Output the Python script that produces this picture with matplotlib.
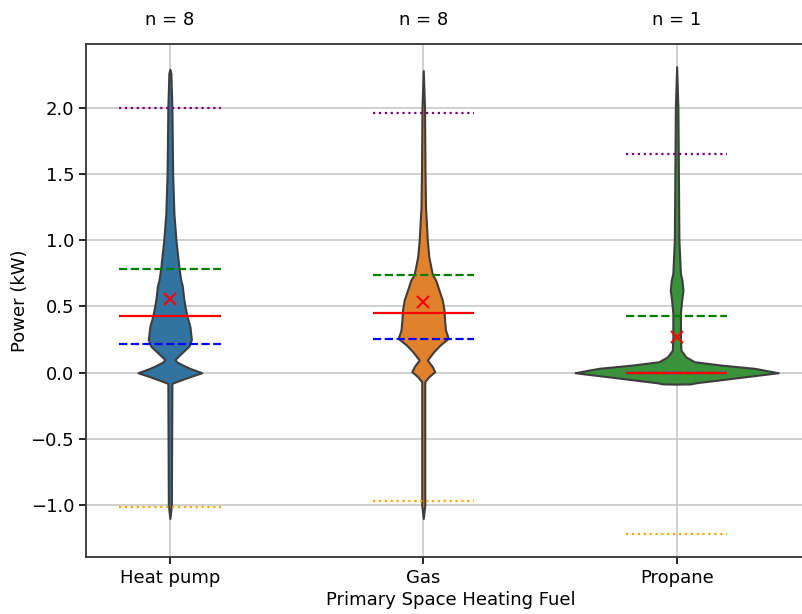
import numpy as np
import matplotlib
matplotlib.use("Agg")
import matplotlib.pyplot as plt

# categorias y conteos
categorias = ["Heat pump", "Gas", "Propane"]
conteos = [8, 8, 1]
colores = ["#3274a1", "#e1812c", "#3a923a"]

# estadisticos (kW)
p_alto = [2.0, 1.96, 1.65]       # percentil alto (punteado morado)
q3 = [0.78, 0.74, 0.43]          # cuartil superior
mediana = [0.43, 0.45, 0.0]
q1 = [0.214, 0.254, 0.0]         # cuartil inferior
p_bajo = [-1.01, -0.97, -1.22]   # percentil bajo (punteado naranja)
media = [0.556, 0.536, 0.272]

# contorno de cada violin: nivel de potencia y semiancho (en unidades de categoria)
y_heat = [2.29, 2.26, 2.0, 1.5, 1.2, 1.0, 0.775, 0.70, 0.655, 0.556, 0.51, 0.43, 0.35,
          0.25, 0.2, 0.15, 0.10, 0.08, 0.05, 0.03, 0.0, -0.03, -0.06, -0.08, -1.0, -1.1]
w_heat = [0.0, 0.004, 0.008, 0.011, 0.016, 0.024, 0.037, 0.043, 0.049, 0.055, 0.059,
          0.067, 0.079, 0.085, 0.075, 0.047, 0.020, 0.028, 0.059, 0.083, 0.126, 0.079,
          0.036, 0.008, 0.006, 0.0]

y_gas = [2.28, 2.0, 1.5, 1.25, 1.0, 0.875, 0.74, 0.70, 0.624, 0.55, 0.473, 0.40, 0.32,
         0.26, 0.21, 0.16, 0.096, 0.045, 0.008, -0.03, -0.068, -1.0, -1.1]
w_gas = [0.0, 0.005, 0.007, 0.009, 0.016, 0.022, 0.036, 0.049, 0.062, 0.075, 0.082,
         0.084, 0.088, 0.099, 0.067, 0.042, 0.016, 0.036, 0.045, 0.022, 0.006, 0.006, 0.0]

y_prop = [2.31, 2.0, 1.5, 1.0, 0.75, 0.70, 0.624, 0.55, 0.45, 0.27, 0.17, 0.12, 0.083,
          0.058, 0.033, 0.0, -0.03, -0.055, -0.075, -0.084, -0.086]
w_prop = [0.0, 0.005, 0.007, 0.009, 0.015, 0.021, 0.025, 0.020, 0.015, 0.015, 0.017,
          0.036, 0.070, 0.174, 0.308, 0.401, 0.272, 0.166, 0.079, 0.055, 0.0]

contornos = [(y_heat, w_heat), (y_gas, w_gas), (y_prop, w_prop)]

fig = plt.figure(figsize=(8.03, 6.14), dpi=100)
ax = fig.add_axes([86 / 803, 1 - 557.3 / 614, 730 / 803, (557.3 - 44) / 614])
ax.set_axisbelow(True)

for i, (yy, ww) in enumerate(contornos):
    yy = np.array(yy)
    ww = np.array(ww)
    ax.fill_betweenx(yy, i - ww, i + ww, facecolor=colores[i],
                     edgecolor="#3d3d3d", linewidth=1.5, zorder=2)

    # lineas de estadisticos
    x0, x1 = i - 0.2, i + 0.2
    ax.hlines(p_alto[i], x0, x1, colors="purple", linestyles=":", linewidth=1.6, zorder=3)
    ax.hlines(q3[i], x0, x1, colors="green", linestyles="--", linewidth=1.6, zorder=3)
    ax.hlines(q1[i], x0, x1, colors="blue", linestyles="--", linewidth=1.6, zorder=3)
    ax.hlines(mediana[i], x0, x1, colors="red", linestyles="-", linewidth=1.6, zorder=4)
    ax.hlines(p_bajo[i], x0, x1, colors="orange", linestyles=":", linewidth=1.6, zorder=3)
    ax.plot(i, media[i], marker="x", color="red", markersize=9, mew=1.5, zorder=5)

    ax.text(i, 1 + 24 / 513, f"n = {conteos[i]}", transform=ax.get_xaxis_transform(),
            ha="center", va="center", fontsize=13)

ax.set_xticks(range(len(categorias)))
ax.set_xticklabels(categorias)
ax.set_yticks([-1.0, -0.5, 0.0, 0.5, 1.0, 1.5, 2.0])
ax.set_xlim(-0.331, 2.55)
ax.set_ylim(-1.393, 2.481)
ax.grid(True, color="#c8c8c8", linewidth=1.2)
ax.tick_params(labelsize=13, length=5, width=1.2)
for s in ax.spines.values():
    s.set_linewidth(1.3)
    s.set_color("#333333")

ax.set_xlabel("Primary Space Heating Fuel", fontsize=13, labelpad=3)
ax.set_ylabel("Power (kW)", fontsize=13, labelpad=1)

fig.savefig("out.png", dpi=100)
